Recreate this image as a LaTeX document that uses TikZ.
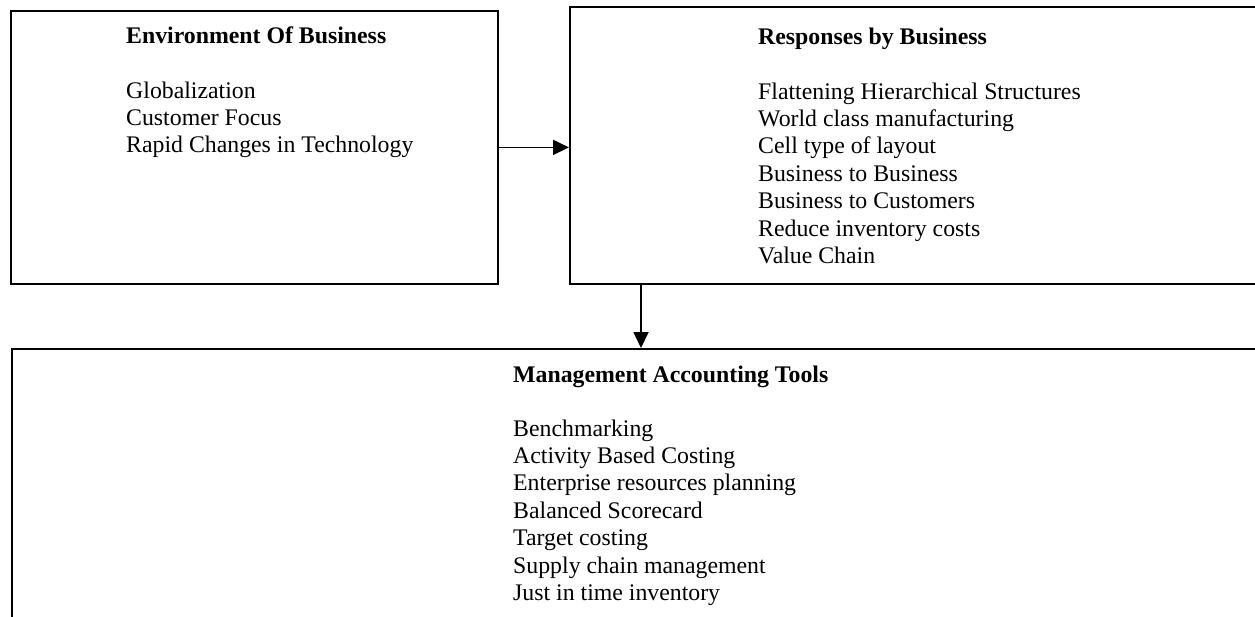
\documentclass[tikz,border=0pt]{standalone}
\usepackage{fontspec}
\setmainfont{Liberation Serif}
\usetikzlibrary{arrows.meta}
\tikzset{
  box/.style={draw=black, line width=1.8pt, rectangle, inner sep=0pt, anchor=north west},
  item/.style={anchor=base west, inner sep=0pt, font=\fontsize{23.8}{27.4}\selectfont},
  heading/.style={item, font=\fontsize{23.8}{27.4}\selectfont\bfseries},
  arr/.style={line width=1.8pt, -{Triangle[length=16pt,width=15pt]}}
}
\begin{document}
\begin{tikzpicture}[x=1pt, y=-1pt]
\useasboundingbox (0,0) rectangle (1255,616);
% boxes
\node[box, minimum width=487pt, minimum height=273pt] (env) at (10,10) {};
\node[box, minimum width=700pt, minimum height=277pt] (resp) at (569,5.7) {};
\node[box, minimum width=1260pt, minimum height=290pt] (tools) at (11,348) {};
% texts
\node[heading] (envt) at (126,43) {Environment Of Business};
\foreach \t [count=\i] in {Globalization, Customer Focus, Rapid Changes in Technology}
  \node[item, name=e\i] at (126, 98+27.4*\i-27.4) {\t};
\node[heading] (respt) at (758,44) {Responses by Business};
\foreach \t [count=\i] in {Flattening Hierarchical Structures, World class manufacturing, Cell type of layout, Business to Business, Business to Customers, Reduce inventory costs, Value Chain}
  \node[item, name=r\i] at (758, 99+27.4*\i-27.4) {\t};
\node[heading] (toolst) at (513,382) {Management Accounting Tools};
\foreach \t [count=\i] in {Benchmarking, Activity Based Costing, Enterprise resources planning, Balanced Scorecard, Target costing, Supply chain management, Just in time inventory}
  \node[item, name=m\i] at (513, 436+27.45*\i-27.45) {\t};
% connectors
\draw[arr] (env.east) -- (env.east -| resp.west);
\coordinate (dn) at (641,300);
\draw[arr] (resp.south -| dn) -- (tools.north -| dn);
\end{tikzpicture}
\end{document}
